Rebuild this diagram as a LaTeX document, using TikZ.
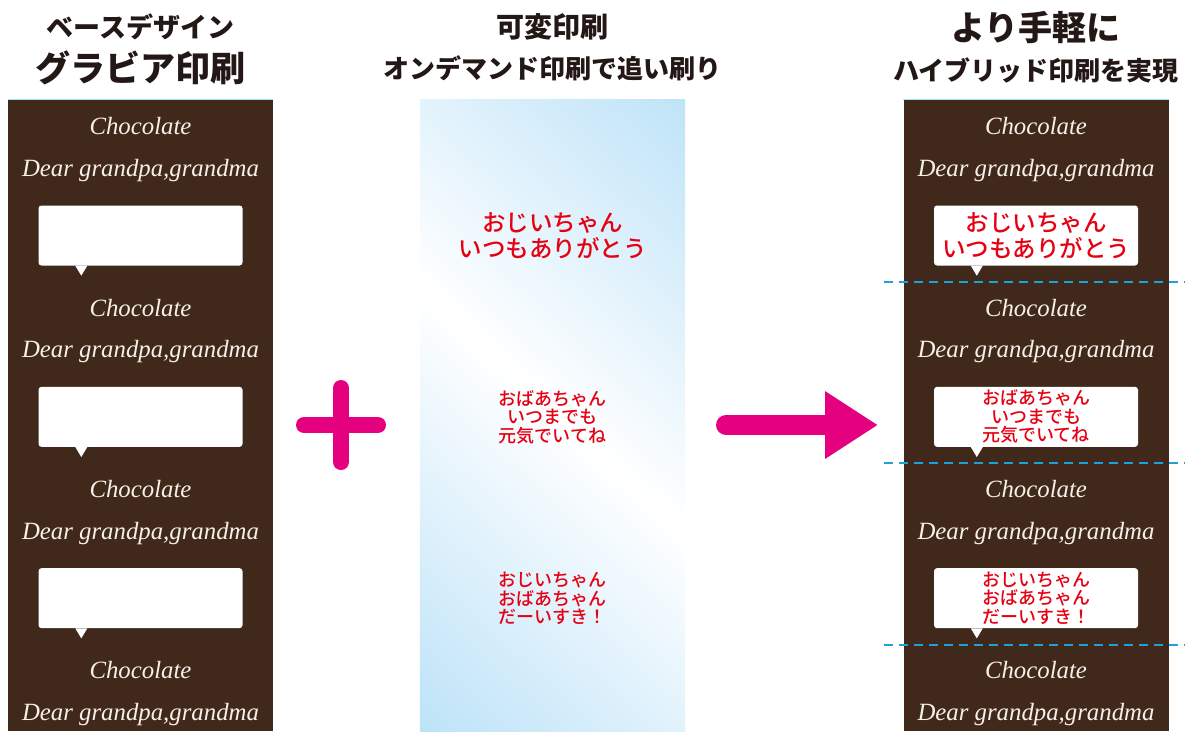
\documentclass[tikz,border=0pt]{standalone}
\usepackage{fontspec}
\setmainfont{Liberation Serif}
\newfontfamily\jpfont{Noto Sans CJK JP}
\newfontfamily\jpmsg{Noto Sans CJK JP Medium}
\usepackage{tikz}
\usetikzlibrary{arrows.meta,positioning}
\definecolor{brownC}{RGB}{64,41,26}
\definecolor{creamC}{RGB}{246,240,232}
\definecolor{inkC}{RGB}{35,24,21}
\definecolor{msgRed}{RGB}{230,0,18}
\definecolor{magP}{RGB}{228,0,127}
\definecolor{skyP}{RGB}{190,227,248}
\definecolor{cutBlue}{RGB}{30,160,220}
\newcommand{\jpb}[1]{\jpfont\bfseries\fontsize{#1}{#1}\selectfont}
\pgfdeclareverticalshading{varGrad}{100bp}{color(0bp)=(skyP); color(35bp)=(skyP);
  color(50bp)=(white); color(65bp)=(skyP); color(100bp)=(skyP)}

\begin{document}
\begin{tikzpicture}[x=1pt,y=-1pt,node distance=44pt,on grid,
  panel/.style={minimum width=265pt,minimum height=631pt,inner sep=0pt},
  cocoTxt/.style={text=creamC,inner sep=0pt,font=\itshape\fontsize{24.8}{26}\selectfont},
  bubble/.style={fill=white,rounded corners=3pt,minimum width=204pt,minimum height=60pt,inner sep=0pt,align=center,text=msgRed},
  title/.style={text=inkC,inner sep=0pt}]
\useasboundingbox (0,0) rectangle (1185,731);

% panels
\node[panel,fill=brownC] (baseP) at (140.5,415.5) {};
\node[panel]             (varP)  at (552.5,415.5) {};
\node[panel,fill=brownC] (hybP)  at (1036,415.5)  {};
\tikzset{skyLine/.style={draw=skyP!80!cyan,line width=0.8pt}}
\draw[skyLine] (baseP.north west) -- (baseP.north east);
\draw[skyLine] (hybP.north west) -- (hybP.north east);

% gradient of the variable print
\begin{scope}
  \clip (varP.south west) rectangle (varP.north east);
  \begin{scope}[transform canvas={rotate around={-43:(552.5,410)}}]
    \shade[shading=varGrad] (-50,-123) rectangle (1150,943);
  \end{scope}
\end{scope}

% titles
\node[title,font=\jpb{35}]           (baseT2) at (140.5,68)          {グラビア印刷};
\node[title,font=\jpb{27}]           (baseT1) [above=41pt of baseT2] {ベースデザイン};
\node[title,font=\jpb{26}]           (varT2)  at (552.5,68)          {オンデマンド印刷で追い刷り};
\node[title,font=\jpb{28}]           (varT1)  [above=41pt of varT2]  {可変印刷};
\node[title,font=\jpb{26}]           (hybT2)  at (1036,70)           {ハイブリッド印刷を実現};
\node[title,font=\jpb{34}]           (hybT1)  [above=42pt of hybT2]  {より手軽に};

% base design texts
\foreach \p/\cx in {L/140.5,R/1036}
  \foreach \k in {0,...,3} {
    \node[cocoTxt] (choc\p\k) at (\cx,{126.5+181.33*\k}) {Chocolate};
    \node[cocoTxt] (dear\p\k) [below=of choc\p\k]       {Dear grandpa,grandma};
  }

% messages
\tikzset{msgBig/.style={font=\jpmsg\fontsize{23.5}{26}\selectfont},
         msgSmall/.style={font=\jpmsg\fontsize{18}{18.5}\selectfont}}
\foreach \k/\sz/\cy/\msg in {0/msgBig/282/{おじいちゃん\\いつもありがとう},
                         1/msgSmall/463/{おばあちゃん\\いつまでも\\元気でいてね},
                         2/msgSmall/645/{おじいちゃん\\おばあちゃん\\だーいすき！}} {
  \node[bubble]          (bubL\k) [below=65pt of dearL\k] {};
  \node[bubble,\sz]      (bubR\k) [below=65pt of dearR\k] {\msg};
  \node[align=center,text=msgRed,\sz] (msgV\k) at (552.5,{236+181.33*\k}) {\msg};
  \foreach \b in {bubL\k,bubR\k}
    \fill[white] ([xshift=37pt]\b.south west) -- ([xshift=49pt]\b.south west)
                 -- ([xshift=43pt,yshift=-10pt]\b.south west) -- cycle;
  \draw[cutBlue,line width=1.2pt,dash pattern=on 9pt off 6pt] (884,\cy) -- (1185,\cy);
}

% plus and arrow
\draw[magP,line width=16pt,line cap=round] (304,425) -- (378,425) (341,388) -- (341,462);
\coordinate (arrS) at (726,425);
\coordinate (arrE) at (878,425);
\draw[magP,line width=20pt,line cap=round,-{Triangle[length=53pt,width=64pt]}] (arrS) -- (arrE);
\end{tikzpicture}
\end{document}
